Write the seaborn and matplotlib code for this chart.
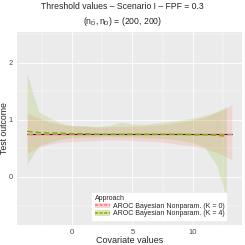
import matplotlib
matplotlib.use("Agg")
import matplotlib.pyplot as plt
from matplotlib.lines import Line2D
from matplotlib.patches import Patch
from matplotlib.ticker import MultipleLocator
import pandas as pd
import seaborn as sns

# covariate grid and estimated bands
covariate_k0 = [-3.75, -3.25, -2.75, -2, -1, 0, 1, 2, 3, 4, 5, 6, 7, 8, 9, 10, 11, 12, 12.5, 13.25]
covariate_k4 = [-3.75, -3.25, -2.75, -2, -1, 0, 1, 2, 3, 4, 5, 6, 7, 8, 9, 10, 11, 12, 12.5, 12.8]

mean_k0 = [0.76, 0.76, 0.76, 0.76, 0.76, 0.76, 0.76, 0.76, 0.76, 0.76,
           0.76, 0.76, 0.76, 0.76, 0.76, 0.76, 0.76, 0.76, 0.76, 0.76]
lower_k0 = [0.42, 0.47, 0.52, 0.57, 0.61, 0.62, 0.63, 0.64, 0.65, 0.65,
            0.64, 0.63, 0.62, 0.60, 0.57, 0.54, 0.50, 0.43, 0.38, 0.30]
upper_k0 = [1.12, 1.08, 1.03, 0.97, 0.92, 0.90, 0.89, 0.88, 0.88, 0.89,
            0.89, 0.90, 0.91, 0.93, 0.96, 1.00, 1.05, 1.13, 1.18, 1.27]

mean_k4 = [0.80, 0.79, 0.78, 0.77, 0.77, 0.76, 0.76, 0.75, 0.75, 0.75,
           0.75, 0.75, 0.75, 0.75, 0.75, 0.74, 0.74, 0.73, 0.72, 0.72]
lower_k4 = [0.22, 0.40, 0.55, 0.60, 0.66, 0.69, 0.70, 0.70, 0.71, 0.70,
            0.70, 0.69, 0.68, 0.67, 0.64, 0.60, 0.52, 0.20, -0.15, -0.40]
upper_k4 = [1.82, 1.45, 1.14, 1.05, 0.95, 0.90, 0.90, 0.88, 0.90, 0.96,
            0.93, 0.92, 0.95, 0.97, 1.00, 1.03, 1.08, 1.15, 1.20, 1.23]

true_value = 0.75
labels = ["AROC Bayesian Nonparam. (K = 0)", "AROC Bayesian Nonparam. (K = 4)"]
colors = ["#F8766D", "#7CAE00"]

sns.set_style("darkgrid", {"axes.facecolor": "#EBEBEB", "grid.color": "white"})
plt.rcParams["font.family"] = ["Liberation Sans", "DejaVu Sans"]
plt.rcParams["mathtext.fontset"] = "custom"
plt.rcParams["mathtext.rm"] = "Liberation Sans"
plt.rcParams["mathtext.it"] = "Liberation Sans"

df0 = pd.DataFrame({"x": covariate_k0, "m": mean_k0})
df4 = pd.DataFrame({"x": covariate_k4, "m": mean_k4})

fig = plt.figure(figsize=(2.45, 2.45), dpi=100)
ax = fig.add_axes([0.069, 0.082, 0.919, 0.787])

ax.fill_between(covariate_k0, lower_k0, upper_k0, color=colors[0], alpha=0.18, lw=0)
ax.fill_between(covariate_k4, lower_k4, upper_k4, color=colors[1], alpha=0.16, lw=0)
ax.plot([covariate_k0[0], covariate_k0[-1]], [true_value, true_value], color="#222222", lw=0.8)
sns.lineplot(data=df0, x="x", y="m", ax=ax, color=colors[0], lw=1.0, linestyle=(0, (4, 2)))
sns.lineplot(data=df4, x="x", y="m", ax=ax, color=colors[1], lw=1.0, linestyle=(0, (4, 2)))

ax.set_xlim(-4.6, 14.1)
ax.set_ylim(-0.84, 2.54)
ax.xaxis.set_major_locator(MultipleLocator(5))
ax.xaxis.set_minor_locator(MultipleLocator(2.5))
ax.yaxis.set_major_locator(MultipleLocator(1))
ax.yaxis.set_minor_locator(MultipleLocator(0.5))
ax.grid(which="major", color="white", lw=0.6)
ax.grid(which="minor", color="white", lw=0.3)
ax.tick_params(which="major", length=2, width=0.5, color="#333333", labelsize=5.5, labelcolor="#4D4D4D", pad=1)
ax.tick_params(which="minor", length=0)
for s in ax.spines.values():
    s.set_visible(False)

ax.set_xlabel("Covariate values", fontsize=6.5)
ax.set_ylabel("Test outcome", fontsize=6.3)
ax.xaxis.set_label_coords(0.5, -0.055)
ax.yaxis.set_label_coords(-0.036, 0.5)
fig.suptitle("Threshold values \u2013 Scenario I \u2013 FPF = 0.3\n$(n_{\\bar{D}}, n_{D})$ = (200, 200)",
             fontsize=6.2, y=0.99, va="top", linespacing=1.35)

handles = [(Patch(facecolor=c, alpha=0.3, lw=0), Line2D([], [], color=c, lw=1.1, linestyle=(0, (2, 1)))) for c in colors]
leg = ax.legend(handles, labels, title="Approach", loc="lower left", bbox_to_anchor=(0.32, 0.01),
                fontsize=5, title_fontsize=5, frameon=True, fancybox=False, handlelength=2.2,
                handleheight=0.8, borderpad=0.3, labelspacing=0.1, handletextpad=0.4)
leg._legend_box.align = "left"
leg.get_frame().set_facecolor("white")
leg.get_frame().set_edgecolor("white")
leg.get_frame().set_alpha(1)

fig.savefig("out.png", dpi=100)
